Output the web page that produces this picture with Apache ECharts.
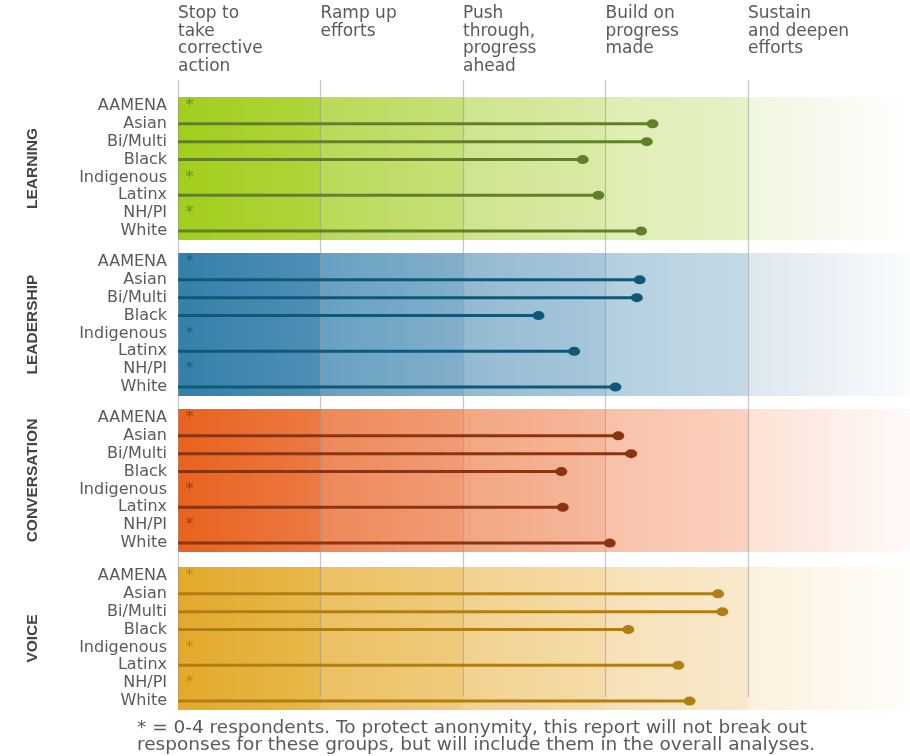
<!DOCTYPE html>
<html>
<head>
<meta charset="utf-8">
<style>
  html, body { margin: 0; padding: 0; background: #fff; }
  #chart { width: 910px; height: 756px; }
</style>
</head>
<body>
<div id="chart"></div>
<script src="https://cdn.jsdelivr.net/npm/echarts@6/dist/echarts.min.js"></script>
<script>
// data
const groups = ['AAMENA', 'Asian', 'Bi/Multi', 'Black', 'Indigenous', 'Latinx', 'NH/PI', 'White']
const sections = ['LEARNING', 'LEADERSHIP', 'CONVERSATION', 'VOICE']
const stageLabels = [
  'Stop to\ntake\ncorrective\naction',
  'Ramp up\nefforts',
  'Push\nthrough,\nprogress\nahead',
  'Build on\nprogress\nmade',
  'Sustain\nand deepen\nefforts'
]
// null = 0-4 respondents (shown as *)
const learning = [null, 3.33, 3.29, 2.84, null, 2.95, null, 3.25]
const leadership = [null, 3.24, 3.22, 2.53, null, 2.78, null, 3.07]
const conversation = [null, 3.09, 3.18, 2.69, null, 2.70, null, 3.03]
const voice = [null, 3.79, 3.82, 3.16, null, 3.51, null, 3.59]
const footnote = '* = 0-4 respondents. To protect anonymity, this report will not break out\nresponses for these groups, but will include them in the overall analyses.'

const sectionValues = [learning, leadership, conversation, voice]

// styling
const LEFT = 178
const STEP = 142.5
const XMAX = (910 - LEFT) / STEP
const LINES_MAX = 4.99
const panelTops = [97, 253, 409, 567]
const panelHeight = 143
const lineColors = ['#62802a', '#0f5877', '#8a3412', '#b07e12']
const panelStops = [
  ['#a2ce1c', '#aed53c', '#b8da56', '#c7e17a', '#cee48d', '#dbeaa8', '#dfedb2', '#e7f1c6', '#eff6de', '#ffffff'],
  ['#3380aa', '#4f8fb6', '#68a0c1', '#82afcb', '#93bad2', '#a8c7da', '#b3cfdf', '#c5d9e6', '#dce7ef', '#fafcfd'],
  ['#e8621d', '#ec7a44', '#ee8858', '#f19c76', '#f2a683', '#f6b89d', '#f8c1a9', '#fbd1be', '#fce1d5', '#fffaf8'],
  ['#e3a92a', '#e8b84b', '#ebc061', '#efcb7e', '#f1d18f', '#f5dcaa', '#f6e0b6', '#f9e9cc', '#fbf0dd', '#fffdf9']
]
const FONT = "'DejaVu Sans', sans-serif"

const makeGradient = (stops) => {
  const b = [0, 1, 2, 3, 4].map(k => (k * STEP) / (910 - LEFT))
  const colorStops = []
  for (let k = 0; k < 5; k++) {
    colorStops.push({ offset: k === 0 ? 0 : b[k] + 0.0005, color: stops[k * 2] })
    colorStops.push({ offset: k === 4 ? 1 : b[k + 1] - 0.0005, color: stops[k * 2 + 1] })
  }
  return { type: 'linear', x: 0, y: 0, x2: 1, y2: 0, colorStops }
}

const grid = []
const xAxis = []
const yAxis = []
const series = []

sections.forEach((name, i) => {
  const vals = sectionValues[i]
  grid.push({
    left: LEFT, right: 0, top: panelTops[i], height: panelHeight,
    show: true, borderWidth: 0, backgroundColor: makeGradient(panelStops[i])
  })
  xAxis.push({
    gridIndex: i, type: 'value', min: 0, max: XMAX, show: false
  })
  yAxis.push({
    gridIndex: i, type: 'category', data: groups, inverse: true,
    axisLine: { show: false }, axisTick: { show: false },
    axisLabel: { interval: 0, color: '#5a5a5a', fontFamily: FONT, fontSize: 16, margin: 11 },
    name: name, nameLocation: 'middle', nameRotate: 90, nameGap: 137,
    nameTextStyle: {
      color: '#444', fontWeight: 'bold', fontSize: 15.5,
      fontFamily: "'Liberation Sans Narrow', 'Liberation Sans', sans-serif"
    }
  })
  series.push({
    type: 'bar', xAxisIndex: i, yAxisIndex: i, z: 3,
    data: vals.map(v => (v === null ? '-' : v)),
    barWidth: 3, itemStyle: { color: lineColors[i] }, silent: true
  })
  series.push({
    type: 'scatter', xAxisIndex: i, yAxisIndex: i, z: 4,
    data: vals.map((v, j) => (v === null ? null : [v, j])).filter(d => d),
    symbol: 'circle', symbolSize: [12, 9],
    itemStyle: { color: lineColors[i], opacity: 1 }, silent: true
  })
  series.push({
    type: 'scatter', xAxisIndex: i, yAxisIndex: i, z: 4,
    data: vals.map((v, j) => (v === null ? [0.08, j] : null)).filter(d => d),
    symbolSize: 1, itemStyle: { color: 'rgba(0,0,0,0)' },
    label: {
      show: true, position: 'inside', formatter: '*',
      color: lineColors[i], fontSize: 16, fontFamily: FONT
    },
    silent: true
  })
})

// overlay grid for the stage lines and header labels
grid.push({ left: LEFT, right: 910 - LEFT - LINES_MAX * STEP, top: 80, bottom: 59 })
xAxis.push({
  gridIndex: 4, type: 'value', position: 'top', min: 0, max: LINES_MAX, interval: 1, z: 1,
  axisLine: { show: false }, axisTick: { show: false },
  splitLine: { show: true, showMaxLine: false, lineStyle: { color: 'rgba(150,150,150,0.55)', width: 1.2 } },
  axisLabel: {
    show: true, showMaxLabel: false, align: 'left', verticalAlign: 'top', margin: 75,
    color: '#5a5a5a', fontFamily: FONT, fontSize: 17, lineHeight: 17.5,
    formatter: (v) => (Number.isInteger(v) && stageLabels[v] ? stageLabels[v] : '')
  }
})
yAxis.push({ gridIndex: 4, type: 'value', show: false })

const chart = echarts.init(document.getElementById('chart'))
chart.setOption({
  animation: false,
  backgroundColor: '#fff',
  title: {
    text: footnote, left: 132, top: 714,
    textStyle: { color: '#5a5a5a', fontFamily: FONT, fontSize: 18.5, fontWeight: 'normal', lineHeight: 17.5 }
  },
  grid, xAxis, yAxis, series
})
</script>
</body>
</html>
